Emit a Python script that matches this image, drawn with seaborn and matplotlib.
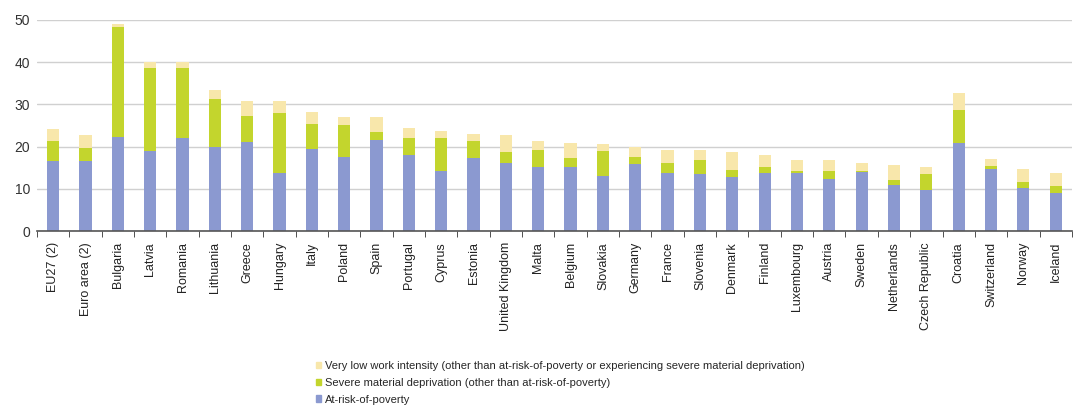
import matplotlib
matplotlib.use("Agg")
import matplotlib.pyplot as plt
from matplotlib.patches import Patch
import seaborn as sns
import numpy as np

countries = ["EU27 (2)", "Euro area (2)", "Bulgaria", "Latvia", "Romania", "Lithuania",
             "Greece", "Hungary", "Italy", "Poland", "Spain", "Portugal", "Cyprus",
             "Estonia", "United Kingdom", "Malta", "Belgium", "Slovakia", "Germany",
             "France", "Slovenia", "Denmark", "Finland", "Luxembourg", "Austria",
             "Sweden", "Netherlands", "Czech Republic", "Croatia", "Switzerland",
             "Norway", "Iceland"]

at_risk = [16.7, 16.7, 22.2, 19.0, 22.0, 19.9, 21.2, 13.8, 19.4, 17.6, 21.6, 17.9, 14.3,
           17.3, 16.0, 15.2, 15.2, 13.0, 15.8, 13.8, 13.5, 12.9, 13.7, 13.7, 12.3,
           13.9, 10.9, 9.6, 20.9, 14.8, 10.3, 9.1]
severe_md = [4.6, 3.0, 26.1, 19.5, 16.5, 11.4, 6.1, 14.2, 6.0, 7.5, 1.8, 4.1, 7.7,
             4.0, 2.8, 4.0, 2.0, 6.0, 1.7, 2.4, 3.3, 1.6, 1.5, 0.4, 1.8,
             0.4, 1.2, 3.9, 7.8, 0.6, 1.2, 1.6]
low_work = [2.8, 3.0, 0.8, 1.6, 1.5, 2.0, 3.6, 2.9, 2.9, 2.0, 3.5, 2.5, 1.7,
            1.6, 3.9, 2.2, 3.6, 1.5, 2.5, 3.0, 2.4, 4.2, 2.8, 2.7, 2.7,
            1.7, 3.6, 1.7, 3.9, 1.7, 3.1, 3.0]

labels = ["Very low work intensity (other than at-risk-of-poverty or experiencing severe material deprivation)",
          "Severe material deprivation (other than at-risk-of-poverty)",
          "At-risk-of-poverty"]

c_blue = "#8b99d0"
c_green = "#c3d52d"
c_yellow = "#f8e7ab"

sns.set_style("white")
plt.rcParams['font.family'] = ['Liberation Sans', 'DejaVu Sans']

fig = plt.figure(figsize=(10.74, 4.07), dpi=100)
ax = fig.add_axes([0.0345, 0.4324, 0.9635, 0.5186])

a = np.array(at_risk)
s = np.array(severe_md)
w = np.array(low_work)

sns.barplot(x=countries, y=at_risk, color=c_blue, width=0.38, ax=ax, saturation=1, linewidth=0)
sns.barplot(x=countries, y=severe_md, bottom=a, color=c_green, width=0.38, ax=ax, saturation=1, linewidth=0)
sns.barplot(x=countries, y=low_work, bottom=a + s, color=c_yellow, width=0.38, ax=ax, saturation=1, linewidth=0)

ax.set_ylim(0, 50)
ax.set_xlim(-0.5, len(countries) - 0.5)
ax.set_yticks(range(0, 51, 10))
ax.yaxis.grid(True, color="#d0d0d0", linewidth=1)
ax.set_axisbelow(True)
for sp in ["top", "right", "left"]:
    ax.spines[sp].set_visible(False)
ax.spines["bottom"].set_color("#555555")
ax.spines["bottom"].set_linewidth(1.2)

ax.set_xticks(range(len(countries)))
ax.set_xticklabels(countries, rotation=90, fontsize=9, color="#222222")
ax.tick_params(axis="x", which="major", length=0, pad=8)
ax.set_xticks(np.arange(-0.5, len(countries), 1), minor=True)
ax.tick_params(axis="x", which="minor", length=4, color="#333333", direction="out", bottom=True)
ax.tick_params(axis="y", length=0, labelsize=10, labelcolor="#333333", pad=5)

handles = [Patch(color=c_yellow), Patch(color=c_green), Patch(color=c_blue)]
fig.legend(handles, labels, loc="lower left", bbox_to_anchor=(0.29, -0.005), frameon=False,
           fontsize=8, handlelength=0.5, handleheight=0.5, handletextpad=0.3, labelspacing=0.6,
           borderaxespad=0)

fig.savefig("out.png", dpi=100)
